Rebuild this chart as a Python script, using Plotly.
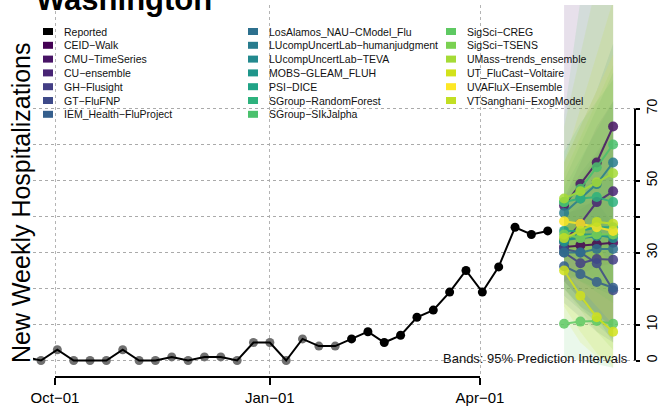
import plotly.graph_objects as go
import pandas as pd

# ---------------- data ----------------
obs_dates = pd.date_range("2021-09-18", periods=33, freq="7D")
reported = [1, 0, 3, 0, 0, 0, 3, 0, 0, 1, 0, 1, 1, 0, 5, 5, 0, 6, 4, 4,
            6, 8, 5, 7, 12, 14, 19, 25, 19, 26, 37, 35, 36]
n_grey = 20  # older reports drawn in grey

fc_dates = pd.date_range("2022-05-07", periods=4, freq="7D")

models = ["CEID-Walk", "CMU-TimeSeries", "CU-ensemble", "GH-Flusight", "GT-FluFNP",
          "IEM_Health-FluProject", "LosAlamos_NAU-CModel_Flu",
          "LUcompUncertLab-humanjudgment", "LUcompUncertLab-TEVA", "MOBS-GLEAM_FLUH",
          "PSI-DICE", "SGroup-RandomForest", "SGroup-SIkJalpha", "SigSci-CREG",
          "SigSci-TSENS", "UMass-trends_ensemble", "UT_FluCast-Voltaire",
          "UVAFluX-Ensemble", "VTSanghani-ExogModel"]
model_colors = ["#440154", "#471365", "#482475", "#433E85", "#3E4A89", "#355F8D",
                "#2D708E", "#287C8E", "#23898E", "#1F968B", "#20A386", "#2DB27D",
                "#4AC16D", "#5EC962", "#7AD151", "#A5DB36", "#D2E21B", "#FDE725",
                "#C2DF23"]

fc_median = [
    [31.5, 32, 32.3, 32.7],
    [43, 49, 55, 65],
    [33, 38, 44, 47],
    [30, 27, 28.2, 28],
    [31, 30, 27, 19.5],
    [26.2, 24, 21.8, 20.2],
    [30, 30, 31, 31],
    [41, 45, 49, 55],
    [33.5, 34, 34.5, 35],
    [33, 35, 35, 34],
    [36, 36, 37, 37],
    [44, 45, 45.4, 44],
    [44, 47.7, 53.7, 60],
    [10.2, 10.8, 11, 10.2],
    [35, 34, 35, 35],
    [45, 47, 49.5, 52],
    [25, 18, 12, 8],
    [38.7, 38, 37, 36],
    [34, 36, 38.5, 38],
]
fc_lower = [
    [22, 17, 13, 9],
    [33, 34, 36, 40],
    [22, 24, 26, 27],
    [20, 15, 12, 10],
    [22, 17, 12, 5],
    [16, 12, 8, 5],
    [18, 14, 11, 8],
    [30, 30, 31, 32],
    [20, 15, 10, 6],
    [24, 22, 20, 18],
    [25, 22, 19, 16],
    [30, 26, 22, 18],
    [28, 28, 29, 30],
    [1, 0, -1, -2],
    [20, 14, 8, 3],
    [30, 29, 28, 27],
    [12, 5, 1, 0],
    [25, 20, 15, 10],
    [15, 8, 2, -2],
]
fc_upper = [
    [43, 50, 57, 64],
    [110, 125, 140, 160],
    [45, 55, 65, 72],
    [41, 42, 45, 48],
    [40, 43, 44, 38],
    [37, 38, 38, 37],
    [45, 52, 58, 64],
    [55, 65, 75, 88],
    [50, 60, 70, 80],
    [43, 48, 50, 52],
    [48, 56, 64, 72],
    [58, 66, 72, 78],
    [68, 100, 120, 140],
    [22, 28, 32, 35],
    [52, 62, 72, 82],
    [65, 85, 105, 125],
    [40, 38, 32, 26],
    [55, 65, 75, 85],
    [55, 70, 85, 100],
]

xtick_vals = ["2021-10-01", "2022-01-01", "2022-04-01"]
xtick_text = ["Oct\u221201", "Jan\u221201", "Apr\u221201"]
ytick_vals = [0, 10, 20, 30, 40, 50, 60, 70]
ytick_text = ["0", "10", "", "30", "", "50", "", "70"]

legend_names = ["Reported"] + models
legend_colors = ["#000000"] + model_colors

# ---------------- figure ----------------
W, H = 658, 410
ML, MR, MT, MB = 33, 23, 5, 33
PW, PH = W - ML - MR, H - MT - MB
FONT = "Liberation Sans, Arial, sans-serif"


def px2paper_x(px):
    return (px - ML) / PW


def px2paper_y(py):
    return (H - MB - py) / PH


def rgba(hx, a):
    hx = hx.lstrip("#")
    r, g, b = int(hx[0:2], 16), int(hx[2:4], 16), int(hx[4:6], 16)
    return f"rgba({r},{g},{b},{a})"


fig = go.Figure()

# prediction interval bands
for name, col, lo, up in zip(models, model_colors, fc_lower, fc_upper):
    fig.add_trace(go.Scatter(
        x=list(fc_dates) + list(fc_dates[::-1]),
        y=list(up) + list(lo[::-1]),
        fill="toself", fillcolor=rgba(col, 0.13), line=dict(width=0),
        mode="lines", hoverinfo="skip", showlegend=False))

# reported: grey old points, line, black recent points
fig.add_trace(go.Scatter(x=obs_dates[:n_grey], y=reported[:n_grey], mode="markers",
                         marker=dict(size=9, color="#707070"), showlegend=False))
fig.add_trace(go.Scatter(x=obs_dates, y=reported, mode="lines",
                         line=dict(color="black", width=2), showlegend=False))
fig.add_trace(go.Scatter(x=obs_dates[n_grey:], y=reported[n_grey:], mode="markers",
                         marker=dict(size=9, color="black"), showlegend=False))

# model forecasts
for name, col, med in zip(models, model_colors, fc_median):
    fig.add_trace(go.Scatter(x=fc_dates, y=med, mode="lines+markers", name=name,
                             line=dict(color=col, width=2),
                             marker=dict(size=10, color=col),
                             opacity=0.85, showlegend=False))

# R-style axis lines spanning first..last tick
shapes = [
    dict(type="line", xref="x", yref="paper", x0=xtick_vals[0], x1=xtick_vals[-1],
         y0=0, y1=0, line=dict(color="black", width=2)),
    dict(type="line", xref="paper", yref="y", x0=1, x1=1,
         y0=ytick_vals[0], y1=ytick_vals[-1], line=dict(color="black", width=2)),
]

annotations = []
# manual legend (3 columns x 7 rows)
col_left = [43, 248, 446]
row0, row_step = 31.5, 13.8
for i, (nm, c) in enumerate(zip(legend_names, legend_colors)):
    ci, ri = i // 7, i % 7
    cy = row0 + ri * row_step
    shapes.append(dict(type="rect", xref="paper", yref="paper",
                       x0=px2paper_x(col_left[ci]), x1=px2paper_x(col_left[ci] + 10),
                       y0=px2paper_y(cy + 3.5), y1=px2paper_y(cy - 3.5),
                       fillcolor=c, line=dict(width=0)))
    annotations.append(dict(text=nm.replace("-", "\u2212"), xref="paper", yref="paper",
                            x=px2paper_x(col_left[ci] + 19), y=px2paper_y(cy),
                            xanchor="left", yanchor="middle", showarrow=False,
                            font=dict(size=10.5, color="#111111", family=FONT)))

annotations.append(dict(text="<b>Washington</b>", xref="paper", yref="paper",
                        x=px2paper_x(34), y=px2paper_y(19), xanchor="left",
                        yanchor="bottom", showarrow=False,
                        font=dict(size=31, color="black", family=FONT)))
annotations.append(dict(text="New Weekly Hospitalizations", xref="paper", yref="paper",
                        x=px2paper_x(21), y=px2paper_y(203), xanchor="center",
                        yanchor="middle", textangle=-90, showarrow=False,
                        font=dict(size=25, color="black", family=FONT)))
annotations.append(dict(text="Bands: 95% Prediction Intervals", xref="paper", yref="paper",
                        x=px2paper_x(630), y=px2paper_y(358), xanchor="right",
                        yanchor="middle", showarrow=False,
                        font=dict(size=13, color="#111111", family=FONT)))

# axis ranges from pixel calibration: Oct-01 at x=55, Apr-01 at x=480
d_oct = pd.Timestamp(xtick_vals[0])
d_apr = pd.Timestamp(xtick_vals[-1])
px_per_day = (480 - 55) / (d_apr - d_oct).days
x_start = d_oct - pd.Timedelta(days=(55 - ML) / px_per_day)
x_end = d_oct + pd.Timedelta(days=(W - MR - 55) / px_per_day)
px_per_unit = 3.6
zero_px = 360.5
y_lo = -(H - MB - zero_px) / px_per_unit
y_hi = (zero_px - MT) / px_per_unit

grid_col = "#aaaaaa"
grid_dash = "dot"
fig.update_layout(
    width=W, height=H, margin=dict(l=ML, r=MR, t=MT, b=MB, pad=0),
    plot_bgcolor="white", paper_bgcolor="white", showlegend=False,
    font=dict(family=FONT, color="black"),
    xaxis=dict(type="date", range=[x_start, x_end], tickvals=xtick_vals,
               ticktext=xtick_text, ticks="outside", ticklen=7, tickwidth=2,
               tickcolor="black", showgrid=True, gridcolor="#b4b4b4", griddash=grid_dash,
               gridwidth=1, zeroline=False, showline=False, automargin=False,
               tickfont=dict(size=15, color="black", family=FONT)),
    yaxis=dict(side="right", range=[y_lo, y_hi], tickvals=ytick_vals,
               ticktext=ytick_text, tickangle=-90, ticks="outside", ticklen=4,
               tickwidth=2, tickcolor="black", showgrid=True, gridcolor=grid_col,
               griddash=grid_dash, gridwidth=1, zeroline=False, showline=False,
               automargin=False,
               tickfont=dict(size=14, color="black", family=FONT)),
    shapes=shapes, annotations=annotations,
)

fig.write_html("out.html", config={"displayModeBar": False},
               post_script="document.body.style.margin='0px';"
                           "document.body.style.overflow='hidden';")
